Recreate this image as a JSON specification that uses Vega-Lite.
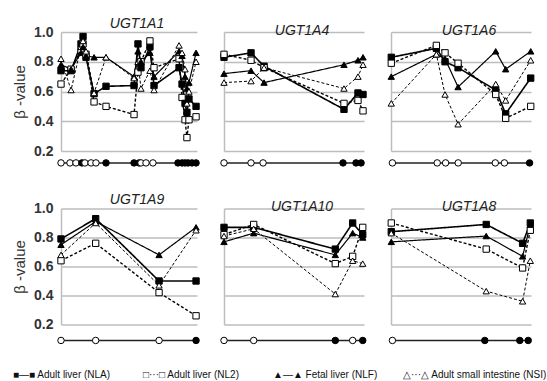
{
  "$schema": "https://vega.github.io/schema/vega-lite/v6.json",
  "padding": {"left": 12, "top": 16, "right": 0, "bottom": 0},
  "spacing": 23.5,
  "resolve": {"scale": {"shape": "independent", "fill": "independent", "strokeDash": "independent", "strokeWidth": "independent", "size": "independent"}},
  "vconcat": [
    {
      "hconcat": [
        {
          "width": 136, "height": 119,
          "title": {"text": "UGT1A1"},
          "data": {"values": [
            {"pos":0,"NLA":0.74,"NL2":0.65,"NLF":0.78,"NSI":0.82},
            {"pos":7.4,"NLA":0.74,"NL2":0.75,"NLF":0.75,"NSI":0.61},
            {"pos":14.7,"NLA":0.92,"NL2":0.88,"NLF":0.86,"NSI":0.90},
            {"pos":16.2,"NLA":0.97,"NL2":0.92,"NLF":0.90,"NSI":0.94},
            {"pos":18.4,"NLA":0.83,"NL2":0.85,"NLF":0.84,"NSI":0.87},
            {"pos":24.3,"NLA":0.585,"NL2":0.53,"NLF":0.83,"NSI":0.59},
            {"pos":33.1,"NLA":0.635,"NL2":0.50,"NLF":0.83,"NSI":0.83},
            {"pos":53.7,"NLA":0.64,"NL2":0.445,"NLF":0.70,"NSI":0.69},
            {"pos":56.6,"NLA":0.92,"NL2":0.73,"NLF":0.87,"NSI":0.80},
            {"pos":58.8,"NLA":0.76,"NL2":0.80,"NLF":0.80,"NSI":0.62},
            {"pos":65.4,"NLA":0.90,"NL2":0.94,"NLF":0.86,"NSI":0.74},
            {"pos":68.4,"NLA":0.64,"NL2":0.76,"NLF":0.70,"NSI":0.61},
            {"pos":86.8,"NLA":0.76,"NL2":0.82,"NLF":0.87,"NSI":0.91},
            {"pos":89.0,"NLA":0.65,"NL2":0.56,"NLF":0.84,"NSI":0.86},
            {"pos":91.2,"NLA":0.52,"NL2":0.41,"NLF":0.70,"NSI":0.75},
            {"pos":92.6,"NLA":0.46,"NL2":0.29,"NLF":0.62,"NSI":0.52},
            {"pos":94.1,"NLA":0.55,"NL2":0.41,"NLF":0.66,"NSI":0.60},
            {"pos":99.3,"NLA":0.50,"NL2":0.43,"NLF":0.86,"NSI":0.80},
            {"site":0,"flag":0},{"site":6.6,"flag":0},{"site":11.0,"flag":0},{"site":15.4,"flag":1},
            {"site":17.6,"flag":0},{"site":22.1,"flag":0},{"site":25.7,"flag":0},{"site":33.1,"flag":1},
            {"site":53.7,"flag":1},{"site":57.4,"flag":1},{"site":58.8,"flag":0},{"site":62.5,"flag":0},
            {"site":67.6,"flag":0},{"site":86.0,"flag":1},{"site":89.0,"flag":1},{"site":91.2,"flag":1},
            {"site":93.4,"flag":1},{"site":96.3,"flag":1},{"site":99.3,"flag":1}
          ]},
          "layer": [
            {"transform": [{"filter": "isValid(datum.NLA)"}, {"fold": ["NLA","NL2","NLF","NSI"], "as": ["series","beta"]}],
             "mark": {"type": "line", "color": "black"},
             "encoding": {
               "x": {"field": "pos", "type": "quantitative", "scale": {"domain": [0,100], "nice": false, "zero": false}, "axis": null},
               "y": {"field": "beta", "type": "quantitative", "scale": {"domain": [0.2,1.0], "nice": false, "zero": false}, "axis": {"values": [0.2,0.4,0.6,0.8,1.0], "tickCount": 10, "format": ".1f", "title": "β -value"}},
               "detail": {"field": "series", "type": "nominal"},
               "strokeDash": {"field": "series", "type": "nominal", "scale": {"domain": ["NLA","NL2","NLF","NSI"], "range": [[1,0],[3,2],[1,0],[3,2]]}, "legend": null},
               "strokeWidth": {"field": "series", "type": "ordinal", "scale": {"domain": ["NLA","NL2","NLF","NSI"], "range": [1.6,1,1.6,1]}, "legend": null}}},
            {"transform": [{"filter": "isValid(datum.NLA)"}, {"fold": ["NLA","NL2","NLF","NSI"], "as": ["series","beta"]}],
             "mark": {"type": "point", "filled": true, "stroke": "black", "strokeWidth": 1, "opacity": 1},
             "encoding": {
               "x": {"field": "pos", "type": "quantitative"},
               "y": {"field": "beta", "type": "quantitative"},
               "shape": {"field": "series", "type": "nominal", "scale": {"domain": ["NLA","NL2","NLF","NSI"], "range": ["square","square","triangle-up","triangle-up"]}, "legend": null},
               "fill": {"field": "series", "type": "nominal", "scale": {"domain": ["NLA","NL2","NLF","NSI"], "range": ["black","white","black","white"]}, "legend": null},
               "size": {"field": "series", "type": "ordinal", "scale": {"domain": ["NLA","NL2","NLF","NSI"], "range": [40,40,48,48]}, "legend": null}}},
            {"transform": [{"filter": "isValid(datum.site)"}],
             "mark": {"type": "line", "color": "#222", "strokeWidth": 1.5},
             "encoding": {"x": {"field": "site", "type": "quantitative"}, "y": {"datum": 0.12}}},
            {"transform": [{"filter": "isValid(datum.site)"}],
             "mark": {"type": "point", "shape": "circle", "filled": true, "stroke": "black", "strokeWidth": 1, "size": 42, "opacity": 1},
             "encoding": {"x": {"field": "site", "type": "quantitative"}, "y": {"datum": 0.12},
               "fill": {"condition": {"test": "datum.flag === 1", "value": "black"}, "value": "white"}}}
          ]
        },
        {
          "width": 140, "height": 119,
          "title": {"text": "UGT1A4"},
          "data": {"values": [
            {"pos":0,"NLA":0.83,"NL2":0.85,"NLF":0.72,"NSI":0.66},
            {"pos":19.3,"NLA":0.86,"NL2":0.81,"NLF":0.74,"NSI":0.67},
            {"pos":28.6,"NLA":0.77,"NL2":0.76,"NLF":0.66,"NSI":0.76},
            {"pos":85.7,"NLA":0.48,"NL2":0.52,"NLF":0.78,"NSI":0.62},
            {"pos":95.7,"NLA":0.59,"NL2":0.54,"NLF":0.81,"NSI":0.70},
            {"pos":99.3,"NLA":0.58,"NL2":0.47,"NLF":0.83,"NSI":0.78},
            {"site":0,"flag":0},{"site":19.3,"flag":0},{"site":27.9,"flag":0},
            {"site":85.0,"flag":1},{"site":94.3,"flag":1},{"site":97.9,"flag":1}
          ]},
          "layer": [
            {"transform": [{"filter": "isValid(datum.NLA)"}, {"fold": ["NLA","NL2","NLF","NSI"], "as": ["series","beta"]}],
             "mark": {"type": "line", "color": "black"},
             "encoding": {
               "x": {"field": "pos", "type": "quantitative", "scale": {"domain": [0,100], "nice": false, "zero": false}, "axis": null},
               "y": {"field": "beta", "type": "quantitative", "scale": {"domain": [0.2,1.0], "nice": false, "zero": false}, "axis": {"values": [0.2,0.4,0.6,0.8,1.0], "tickCount": 10, "labels": false, "title": null}},
               "detail": {"field": "series", "type": "nominal"},
               "strokeDash": {"field": "series", "type": "nominal", "scale": {"domain": ["NLA","NL2","NLF","NSI"], "range": [[1,0],[3,2],[1,0],[3,2]]}, "legend": null},
               "strokeWidth": {"field": "series", "type": "ordinal", "scale": {"domain": ["NLA","NL2","NLF","NSI"], "range": [1.6,1,1.6,1]}, "legend": null}}},
            {"transform": [{"filter": "isValid(datum.NLA)"}, {"fold": ["NLA","NL2","NLF","NSI"], "as": ["series","beta"]}],
             "mark": {"type": "point", "filled": true, "stroke": "black", "strokeWidth": 1, "opacity": 1},
             "encoding": {
               "x": {"field": "pos", "type": "quantitative"},
               "y": {"field": "beta", "type": "quantitative"},
               "shape": {"field": "series", "type": "nominal", "scale": {"domain": ["NLA","NL2","NLF","NSI"], "range": ["square","square","triangle-up","triangle-up"]}, "legend": null},
               "fill": {"field": "series", "type": "nominal", "scale": {"domain": ["NLA","NL2","NLF","NSI"], "range": ["black","white","black","white"]}, "legend": null},
               "size": {"field": "series", "type": "ordinal", "scale": {"domain": ["NLA","NL2","NLF","NSI"], "range": [40,40,48,48]}, "legend": null}}},
            {"transform": [{"filter": "isValid(datum.site)"}],
             "mark": {"type": "line", "color": "#222", "strokeWidth": 1.5},
             "encoding": {"x": {"field": "site", "type": "quantitative"}, "y": {"datum": 0.12}}},
            {"transform": [{"filter": "isValid(datum.site)"}],
             "mark": {"type": "point", "shape": "circle", "filled": true, "stroke": "black", "strokeWidth": 1, "size": 42, "opacity": 1},
             "encoding": {"x": {"field": "site", "type": "quantitative"}, "y": {"datum": 0.12},
               "fill": {"condition": {"test": "datum.flag === 1", "value": "black"}, "value": "white"}}}
          ]
        },
        {
          "width": 140, "height": 119,
          "title": {"text": "UGT1A6"},
          "data": {"values": [
            {"pos":0.2,"NLA":0.83,"NL2":0.79,"NLF":0.70,"NSI":0.52},
            {"pos":32.4,"NLA":0.89,"NL2":0.91,"NLF":0.85,"NSI":0.85},
            {"pos":38.6,"NLA":0.80,"NL2":0.86,"NLF":0.82,"NSI":0.58},
            {"pos":47.9,"NLA":0.76,"NL2":0.79,"NLF":0.63,"NSI":0.38},
            {"pos":74.8,"NLA":0.61,"NL2":0.58,"NLF":0.87,"NSI":0.65},
            {"pos":81.9,"NLA":0.45,"NL2":0.42,"NLF":0.75,"NSI":0.54},
            {"pos":99.8,"NLA":0.69,"NL2":0.50,"NLF":0.87,"NSI":0.81},
            {"site":1,"flag":0},{"site":33,"flag":0},{"site":39,"flag":0},{"site":48,"flag":0},
            {"site":74.5,"flag":0},{"site":81,"flag":0},{"site":99,"flag":1}
          ]},
          "layer": [
            {"transform": [{"filter": "isValid(datum.NLA)"}, {"fold": ["NLA","NL2","NLF","NSI"], "as": ["series","beta"]}],
             "mark": {"type": "line", "color": "black"},
             "encoding": {
               "x": {"field": "pos", "type": "quantitative", "scale": {"domain": [0,100], "nice": false, "zero": false}, "axis": null},
               "y": {"field": "beta", "type": "quantitative", "scale": {"domain": [0.2,1.0], "nice": false, "zero": false}, "axis": {"values": [0.2,0.4,0.6,0.8,1.0], "tickCount": 10, "labels": false, "title": null}},
               "detail": {"field": "series", "type": "nominal"},
               "strokeDash": {"field": "series", "type": "nominal", "scale": {"domain": ["NLA","NL2","NLF","NSI"], "range": [[1,0],[3,2],[1,0],[3,2]]}, "legend": null},
               "strokeWidth": {"field": "series", "type": "ordinal", "scale": {"domain": ["NLA","NL2","NLF","NSI"], "range": [1.6,1,1.6,1]}, "legend": null}}},
            {"transform": [{"filter": "isValid(datum.NLA)"}, {"fold": ["NLA","NL2","NLF","NSI"], "as": ["series","beta"]}],
             "mark": {"type": "point", "filled": true, "stroke": "black", "strokeWidth": 1, "opacity": 1},
             "encoding": {
               "x": {"field": "pos", "type": "quantitative"},
               "y": {"field": "beta", "type": "quantitative"},
               "shape": {"field": "series", "type": "nominal", "scale": {"domain": ["NLA","NL2","NLF","NSI"], "range": ["square","square","triangle-up","triangle-up"]}, "legend": null},
               "fill": {"field": "series", "type": "nominal", "scale": {"domain": ["NLA","NL2","NLF","NSI"], "range": ["black","white","black","white"]}, "legend": null},
               "size": {"field": "series", "type": "ordinal", "scale": {"domain": ["NLA","NL2","NLF","NSI"], "range": [40,40,48,48]}, "legend": null}}},
            {"transform": [{"filter": "isValid(datum.site)"}],
             "mark": {"type": "line", "color": "#222", "strokeWidth": 1.5},
             "encoding": {"x": {"field": "site", "type": "quantitative"}, "y": {"datum": 0.12}}},
            {"transform": [{"filter": "isValid(datum.site)"}],
             "mark": {"type": "point", "shape": "circle", "filled": true, "stroke": "black", "strokeWidth": 1, "size": 42, "opacity": 1},
             "encoding": {"x": {"field": "site", "type": "quantitative"}, "y": {"datum": 0.12},
               "fill": {"condition": {"test": "datum.flag === 1", "value": "black"}, "value": "white"}}}
          ]
        }
      ],
      "spacing": 27,
      "bounds": "flush"
    },
    {
      "spacing": 23,
      "vconcat": [
        {
          "hconcat": [
            {
              "width": 136, "height": 116,
              "title": {"text": "UGT1A9"},
              "data": {"values": [
                {"pos":0,"NLA":0.79,"NL2":0.64,"NLF":0.75,"NSI":0.68},
                {"pos":25.5,"NLA":0.93,"NL2":0.76,"NLF":0.91,"NSI":0.90},
                {"pos":72.1,"NLA":0.50,"NL2":0.42,"NLF":0.68,"NSI":0.47},
                {"pos":99.3,"NLA":0.50,"NL2":0.26,"NLF":0.87,"NSI":0.85},
                {"site":0,"flag":0},{"site":25.5,"flag":0},{"site":72.1,"flag":0},{"site":99.3,"flag":1}
              ]},
              "layer": [
                {"transform": [{"filter": "isValid(datum.NLA)"}, {"fold": ["NLA","NL2","NLF","NSI"], "as": ["series","beta"]}],
                 "mark": {"type": "line", "color": "black"},
                 "encoding": {
                   "x": {"field": "pos", "type": "quantitative", "scale": {"domain": [0,100], "nice": false, "zero": false}, "axis": null},
                   "y": {"field": "beta", "type": "quantitative", "scale": {"domain": [0.2,1.0], "nice": false, "zero": false}, "axis": {"values": [0.2,0.4,0.6,0.8,1.0], "tickCount": 10, "format": ".1f", "title": "β -value"}},
                   "detail": {"field": "series", "type": "nominal"},
                   "strokeDash": {"field": "series", "type": "nominal", "scale": {"domain": ["NLA","NL2","NLF","NSI"], "range": [[1,0],[3,2],[1,0],[3,2]]}, "legend": null},
                   "strokeWidth": {"field": "series", "type": "ordinal", "scale": {"domain": ["NLA","NL2","NLF","NSI"], "range": [1.6,1,1.6,1]}, "legend": null}}},
                {"transform": [{"filter": "isValid(datum.NLA)"}, {"fold": ["NLA","NL2","NLF","NSI"], "as": ["series","beta"]}],
                 "mark": {"type": "point", "filled": true, "stroke": "black", "strokeWidth": 1, "opacity": 1},
                 "encoding": {
                   "x": {"field": "pos", "type": "quantitative"},
                   "y": {"field": "beta", "type": "quantitative"},
                   "shape": {"field": "series", "type": "nominal", "scale": {"domain": ["NLA","NL2","NLF","NSI"], "range": ["square","square","triangle-up","triangle-up"]}, "legend": null},
                   "fill": {"field": "series", "type": "nominal", "scale": {"domain": ["NLA","NL2","NLF","NSI"], "range": ["black","white","black","white"]}, "legend": null},
                   "size": {"field": "series", "type": "ordinal", "scale": {"domain": ["NLA","NL2","NLF","NSI"], "range": [40,40,48,48]}, "legend": null}}},
                {"transform": [{"filter": "isValid(datum.site)"}],
                 "mark": {"type": "line", "color": "#222", "strokeWidth": 1.5},
                 "encoding": {"x": {"field": "site", "type": "quantitative"}, "y": {"datum": 0.09}}},
                {"transform": [{"filter": "isValid(datum.site)"}],
                 "mark": {"type": "point", "shape": "circle", "filled": true, "stroke": "black", "strokeWidth": 1, "size": 42, "opacity": 1},
                 "encoding": {"x": {"field": "site", "type": "quantitative"}, "y": {"datum": 0.09},
                   "fill": {"condition": {"test": "datum.flag === 1", "value": "black"}, "value": "white"}}}
              ]
            },
            {
              "width": 140, "height": 116,
              "title": {"text": "UGT1A10"},
              "data": {"values": [
                {"pos":0,"NLA":0.87,"NL2":0.82,"NLF":0.77,"NSI":0.81},
                {"pos":21.2,"NLA":0.87,"NL2":0.89,"NLF":0.83,"NSI":0.86},
                {"pos":79.5,"NLA":0.72,"NL2":0.62,"NLF":0.68,"NSI":0.41},
                {"pos":91.9,"NLA":0.90,"NL2":0.67,"NLF":0.83,"NSI":0.64},
                {"pos":99.1,"NLA":0.82,"NL2":0.87,"NLF":0.80,"NSI":0.62},
                {"site":0,"flag":0},{"site":21.2,"flag":0},{"site":79.5,"flag":1},{"site":91.9,"flag":0},{"site":99.1,"flag":1}
              ]},
              "layer": [
                {"transform": [{"filter": "isValid(datum.NLA)"}, {"fold": ["NLA","NL2","NLF","NSI"], "as": ["series","beta"]}],
                 "mark": {"type": "line", "color": "black"},
                 "encoding": {
                   "x": {"field": "pos", "type": "quantitative", "scale": {"domain": [0,100], "nice": false, "zero": false}, "axis": null},
                   "y": {"field": "beta", "type": "quantitative", "scale": {"domain": [0.2,1.0], "nice": false, "zero": false}, "axis": {"values": [0.2,0.4,0.6,0.8,1.0], "tickCount": 10, "labels": false, "title": null}},
                   "detail": {"field": "series", "type": "nominal"},
                   "strokeDash": {"field": "series", "type": "nominal", "scale": {"domain": ["NLA","NL2","NLF","NSI"], "range": [[1,0],[3,2],[1,0],[3,2]]}, "legend": null},
                   "strokeWidth": {"field": "series", "type": "ordinal", "scale": {"domain": ["NLA","NL2","NLF","NSI"], "range": [1.6,1,1.6,1]}, "legend": null}}},
                {"transform": [{"filter": "isValid(datum.NLA)"}, {"fold": ["NLA","NL2","NLF","NSI"], "as": ["series","beta"]}],
                 "mark": {"type": "point", "filled": true, "stroke": "black", "strokeWidth": 1, "opacity": 1},
                 "encoding": {
                   "x": {"field": "pos", "type": "quantitative"},
                   "y": {"field": "beta", "type": "quantitative"},
                   "shape": {"field": "series", "type": "nominal", "scale": {"domain": ["NLA","NL2","NLF","NSI"], "range": ["square","square","triangle-up","triangle-up"]}, "legend": null},
                   "fill": {"field": "series", "type": "nominal", "scale": {"domain": ["NLA","NL2","NLF","NSI"], "range": ["black","white","black","white"]}, "legend": null},
                   "size": {"field": "series", "type": "ordinal", "scale": {"domain": ["NLA","NL2","NLF","NSI"], "range": [40,40,48,48]}, "legend": null}}},
                {"transform": [{"filter": "isValid(datum.site)"}],
                 "mark": {"type": "line", "color": "#222", "strokeWidth": 1.5},
                 "encoding": {"x": {"field": "site", "type": "quantitative"}, "y": {"datum": 0.09}}},
                {"transform": [{"filter": "isValid(datum.site)"}],
                 "mark": {"type": "point", "shape": "circle", "filled": true, "stroke": "black", "strokeWidth": 1, "size": 42, "opacity": 1},
                 "encoding": {"x": {"field": "site", "type": "quantitative"}, "y": {"datum": 0.09},
                   "fill": {"condition": {"test": "datum.flag === 1", "value": "black"}, "value": "white"}}}
              ]
            },
            {
              "width": 140, "height": 116,
              "title": {"text": "UGT1A8"},
              "data": {"values": [
                {"pos":0.2,"NLA":0.84,"NL2":0.90,"NLF":0.77,"NSI":0.83},
                {"pos":68,"NLA":0.89,"NL2":0.72,"NLF":0.81,"NSI":0.43},
                {"pos":94,"NLA":0.76,"NL2":0.59,"NLF":0.67,"NSI":0.36},
                {"pos":99.5,"NLA":0.90,"NL2":0.85,"NLF":0.89,"NSI":0.64},
                {"site":1,"flag":0},{"site":67,"flag":1},{"site":92,"flag":1},{"site":98,"flag":1}
              ]},
              "layer": [
                {"transform": [{"filter": "isValid(datum.NLA)"}, {"fold": ["NLA","NL2","NLF","NSI"], "as": ["series","beta"]}],
                 "mark": {"type": "line", "color": "black"},
                 "encoding": {
                   "x": {"field": "pos", "type": "quantitative", "scale": {"domain": [0,100], "nice": false, "zero": false}, "axis": null},
                   "y": {"field": "beta", "type": "quantitative", "scale": {"domain": [0.2,1.0], "nice": false, "zero": false}, "axis": {"values": [0.2,0.4,0.6,0.8,1.0], "tickCount": 10, "labels": false, "title": null}},
                   "detail": {"field": "series", "type": "nominal"},
                   "strokeDash": {"field": "series", "type": "nominal", "scale": {"domain": ["NLA","NL2","NLF","NSI"], "range": [[1,0],[3,2],[1,0],[3,2]]}, "legend": null},
                   "strokeWidth": {"field": "series", "type": "ordinal", "scale": {"domain": ["NLA","NL2","NLF","NSI"], "range": [1.6,1,1.6,1]}, "legend": null}}},
                {"transform": [{"filter": "isValid(datum.NLA)"}, {"fold": ["NLA","NL2","NLF","NSI"], "as": ["series","beta"]}],
                 "mark": {"type": "point", "filled": true, "stroke": "black", "strokeWidth": 1, "opacity": 1},
                 "encoding": {
                   "x": {"field": "pos", "type": "quantitative"},
                   "y": {"field": "beta", "type": "quantitative"},
                   "shape": {"field": "series", "type": "nominal", "scale": {"domain": ["NLA","NL2","NLF","NSI"], "range": ["square","square","triangle-up","triangle-up"]}, "legend": null},
                   "fill": {"field": "series", "type": "nominal", "scale": {"domain": ["NLA","NL2","NLF","NSI"], "range": ["black","white","black","white"]}, "legend": null},
                   "size": {"field": "series", "type": "ordinal", "scale": {"domain": ["NLA","NL2","NLF","NSI"], "range": [40,40,48,48]}, "legend": null}}},
                {"transform": [{"filter": "isValid(datum.site)"}],
                 "mark": {"type": "line", "color": "#222", "strokeWidth": 1.5},
                 "encoding": {"x": {"field": "site", "type": "quantitative"}, "y": {"datum": 0.09}}},
                {"transform": [{"filter": "isValid(datum.site)"}],
                 "mark": {"type": "point", "shape": "circle", "filled": true, "stroke": "black", "strokeWidth": 1, "size": 42, "opacity": 1},
                 "encoding": {"x": {"field": "site", "type": "quantitative"}, "y": {"datum": 0.09},
                   "fill": {"condition": {"test": "datum.flag === 1", "value": "black"}, "value": "white"}}}
              ]
            }
          ],
          "spacing": 27,
          "bounds": "flush"
        },
        {
          "width": 520, "height": 10,
          "data": {"values": [
            {"item": "■—■ Adult liver (NLA)"},
            {"item": "□···□ Adult liver (NL2)"},
            {"item": "▲—▲ Fetal liver (NLF)"},
            {"item": "△···△ Adult small intestine (NSI)"}
          ]},
          "mark": {"type": "text", "align": "left", "baseline": "middle", "font": "Liberation Sans", "fontSize": 10, "color": "#111", "dx": -48},
          "encoding": {
            "x": {"field": "item", "type": "ordinal", "sort": null, "bandPosition": 0, "scale": {"type": "band", "paddingInner": 0, "paddingOuter": 0}, "axis": null},
            "text": {"field": "item", "type": "nominal"}
          }
        }
      ]
    }
  ],
  "config": {
    "view": {"stroke": null},
    "font": "Liberation Sans",
    "axisY": {"grid": true, "gridColor": "#bdbdbd", "gridWidth": 1.5, "domain": true, "domainColor": "#bdbdbd", "domainWidth": 1.5, "ticks": false, "labelFlush": false, "labelOverlap": false, "labelFont": "Liberation Sans", "labelFontSize": 14, "labelFontWeight": "bold", "labelColor": "#333", "labelPadding": 8, "titleFont": "Liberation Sans", "titleFontSize": 15, "titleFontWeight": "normal", "titleColor": "#333", "titlePadding": 6},
    "title": {"font": "Liberation Sans", "fontSize": 14, "fontStyle": "italic", "fontWeight": "normal", "color": "#222", "offset": -5.5, "dx": 8}
  }
}
